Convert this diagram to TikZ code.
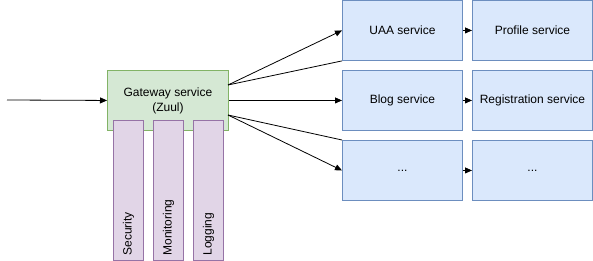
\documentclass[tikz,border=0pt]{standalone}
\usepackage{fontspec}
\setmainfont{Liberation Sans}
\usetikzlibrary{arrows.meta}
\definecolor{gfill}{HTML}{D5E8D4}\definecolor{gline}{HTML}{82B366}
\definecolor{bfill}{HTML}{DAE8FC}\definecolor{bline}{HTML}{6C8EBF}
\definecolor{pfill}{HTML}{E1D5E7}\definecolor{pline}{HTML}{9673A6}
\begin{document}
\begin{tikzpicture}[x=1pt,y=-1pt,
  lbl/.style={font=\fontsize{12}{15}\selectfont},
  svc/.style={draw=bline,fill=bfill,line width=0.9pt,minimum width=120pt,minimum height=60pt,inner sep=0pt,anchor=north west,lbl},
  gw/.style={draw=gline,fill=gfill,line width=0.9pt,minimum width=121pt,minimum height=60pt,inner sep=0pt,anchor=north west,lbl,align=center},
  bar/.style={draw=pline,fill=pfill,line width=0.9pt,minimum width=30pt,minimum height=140pt,inner sep=0pt,anchor=north west},
  arr/.style={-{Triangle[length=7pt,width=6pt]},line width=0.8pt},
  ln/.style={line width=0.8pt}]
\useasboundingbox (0,0) rectangle (593,261);
\node[gw] (gw) at (107,70) {Gateway service\\(Zuul)};
\node[bar] (sec) at (113,120) {};
\node[bar] (mon) at (153,120) {};
\node[bar] (log) at (193,120) {};
\node[lbl,rotate=90,anchor=west] (tsec) at ([yshift=2pt]sec.south) {Security};
\node[lbl,rotate=90,anchor=west] (tmon) at ([yshift=2pt]mon.south) {Monitoring};
\node[lbl,rotate=90,anchor=west] (tlog) at ([yshift=2pt]log.south) {Logging};
\node[svc] (uaa) at (342,0) {UAA service};
\node[svc] (prof) at (472,0) {Profile service};
\node[svc] (blog) at (342,70) {Blog service};
\node[svc] (reg) at (472,70) {Registration service};
\node[svc] (d1) at (342,140) {...};
\node[svc] (d2) at (472,140) {...};
\coordinate (in) at (7,100);
\coordinate (gwa) at (228,85);
\coordinate (gwb) at (228,115);
\draw[arr] (in) -- (gw.west);
\draw[arr] (gwa) -- (uaa.west);
\draw[ln] (gwa) -- (uaa.south west);
\draw[arr] (gw.east) -- (blog.west);
\draw[ln] (gwb) -- (d1.north west);
\draw[arr] (gwb) -- (d1.west);
\draw[arr] (uaa.east) -- (prof.west);
\draw[arr] (blog.east) -- (reg.west);
\draw[arr] (d1.east) -- (d2.west);
\end{tikzpicture}
\end{document}
